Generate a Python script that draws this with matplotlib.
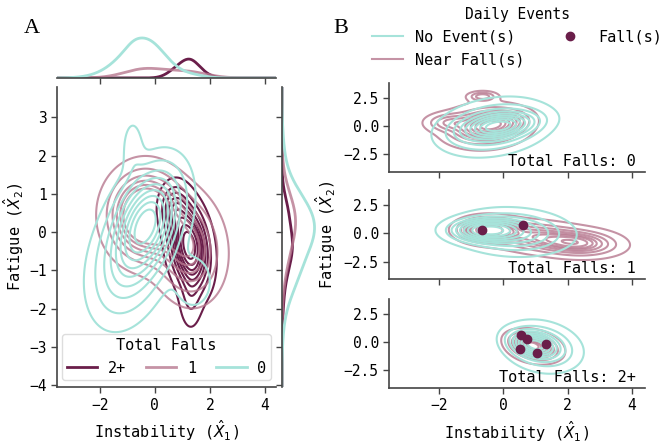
import matplotlib
matplotlib.use('Agg')
import matplotlib.pyplot as plt
import numpy as np
from matplotlib.lines import Line2D

plt.rcParams['font.family'] = ['DejaVu Sans Mono', 'DejaVu Sans']
plt.rcParams['mathtext.fontset'] = 'dejavusans'

# colours for 0 / 1 / 2+ falls (and no event / near fall / fall)
C_ZERO = '#a6e3da'
C_ONE = '#b7788f'
C_TWO = '#6a1e4a'

# density blobs: (weight, x centre, y centre, sd x, sd y, corr)
A_FALLS0 = [(0.64, -0.25, 0.30, 0.70, 0.78, 0.35),
            (0.315, -0.95, -0.80, 0.80, 0.90, 0.30),
            (0.015, -0.80, 2.20, 0.25, 0.50, 0.0),
            (0.03, 1.40, -1.30, 0.45, 0.45, 0.0)]
A_FALLS1 = [(0.62, -0.35, 0.45, 0.75, 0.65, 0.0),
            (0.38, 1.20, -0.40, 0.70, 0.75, -0.1)]
A_FALLS2 = [(0.82, 1.25, -0.35, 0.42, 0.65, -0.25),
            (0.12, 0.70, 0.65, 0.32, 0.38, 0.0),
            (0.06, 1.30, -1.75, 0.25, 0.50, 0.0)]
A_GROUP_WEIGHTS = [0.16, 0.21, 0.63]      # 2+, 1, 0
A_LABELS = ['2+', '1', '0']
A_NLEVELS = [9, 6, 9]

B_NOEVENT = [
    [(0.35, -0.10, 0.00, 0.65, 0.65, 0.35), (0.65, -0.30, -0.10, 0.85, 1.20, 0.25)],
    [(0.40, -0.55, 0.25, 0.60, 0.55, 0.00), (0.60, 0.30, 0.10, 0.90, 1.00, -0.10)],
    [(0.45, 0.95, -0.20, 0.40, 0.65, -0.30), (0.55, 1.20, -0.40, 0.60, 1.10, -0.20)],
]
B_NEARFALL = [
    [(0.40, -0.35, 0.10, 0.50, 0.60, 0.30), (0.49, -0.55, 0.00, 0.75, 1.05, 0.10),
     (0.08, -1.70, 0.30, 0.40, 0.45, 0.00), (0.03, -0.65, 2.60, 0.25, 0.25, 0.00)],
    [(0.35, -0.50, 0.30, 0.50, 0.60, 0.00), (0.35, 1.00, -0.30, 0.90, 0.80, -0.20),
     (0.30, 2.40, -0.90, 0.75, 0.70, -0.10)],
    [(0.55, 0.90, -0.30, 0.35, 0.55, -0.40), (0.45, 0.95, -0.40, 0.45, 0.75, -0.20)],
]
B_FALL_X = [[], [-0.65, 0.6], [0.55, 0.72, 0.52, 1.05, 1.32]]
B_FALL_Y = [[], [0.3, 0.75], [0.6, 0.3, -0.6, -1.0, -0.2]]
B_TITLES = ['Total Falls: 0', 'Total Falls: 1', 'Total Falls: 2+']

XLIM = (-3.55, 4.4)
YLIM = (-4.05, 3.8)

gx = np.linspace(XLIM[0], XLIM[1], 300)
gy = np.linspace(YLIM[0], YLIM[1], 300)
GX, GY = np.meshgrid(gx, gy)


def density2d(comps):
    z = np.zeros_like(GX)
    for w, mx, my, sx, sy, r in comps:
        u = (GX - mx) / sx
        v = (GY - my) / sy
        q = (u * u - 2 * r * u * v + v * v) / (1 - r * r)
        z += w * np.exp(-q / 2) / (2 * np.pi * sx * sy * np.sqrt(1 - r * r))
    return z


def marg(comps, t, axis):
    d = np.zeros_like(t)
    for w, mx, my, sx, sy, r in comps:
        m, s = (mx, sx) if axis == 0 else (my, sy)
        d += w * np.exp(-0.5 * ((t - m) / s) ** 2) / (s * np.sqrt(2 * np.pi))
    return d


def iso_levels(z, n):
    props = np.linspace(0.05, 1, 10)[:n]
    vals = np.sort(z.ravel())[::-1]
    cum = np.cumsum(vals) / vals.sum()
    idx = np.searchsorted(cum, 1 - props)
    lev = np.take(vals, idx, mode='clip')
    return np.unique(lev)


def style(ax):
    for s in ['top', 'right']:
        ax.spines[s].set_visible(False)
    for s in ['left', 'bottom']:
        ax.spines[s].set_color('#444444')
        ax.spines[s].set_linewidth(1.2)
    ax.tick_params(direction='out', length=4, width=1, color='#444444', labelsize=10.5)


fig = plt.figure(figsize=(6.62, 4.43), dpi=100)

# ---------------- panel A ----------------
axA = fig.add_axes([0.086, 0.126, 0.331, 0.678])
axT = fig.add_axes([0.086, 0.824, 0.331, 0.135], sharex=axA)
axR = fig.add_axes([0.426, 0.126, 0.066, 0.678], sharey=axA)

groups = [A_FALLS2, A_FALLS1, A_FALLS0]
cols = [C_TWO, C_ONE, C_ZERO]
alphas = [1.0, 0.8, 1.0]
for comps, c, a, n in zip(groups, cols, alphas, A_NLEVELS):
    z = density2d(comps)
    axA.contour(GX, GY, z, levels=iso_levels(z, n), colors=c, linewidths=1.5, alpha=a)

tx = np.linspace(XLIM[0], XLIM[1], 400)
ty = np.linspace(YLIM[0], YLIM[1], 400)
for comps, c, a, w in zip(groups, cols, alphas, A_GROUP_WEIGHTS):
    axT.plot(tx, w * marg(comps, tx, 0), color=c, lw=2, alpha=a)
    axR.plot(w * marg(comps, ty, 1), ty, color=c, lw=2, alpha=a)
axT.set_ylim(0, 0.46)
axR.set_xlim(0, 0.34)

axA.set_xlim(XLIM)
axA.set_ylim(YLIM)
axA.set_xticks([-2, 0, 2, 4])
axA.set_yticks([-4, -3, -2, -1, 0, 1, 2, 3])
style(axA)
axA.set_xlabel('Instability ($\\hat{X}_1$)', fontsize=11)
axA.set_ylabel('Fatigue ($\\hat{X}_2$)', fontsize=11, labelpad=2)

style(axT)
axT.spines['left'].set_visible(False)
axT.tick_params(axis='x', labelbottom=False)
axT.tick_params(axis='y', left=False, labelleft=False)
style(axR)
axR.spines['bottom'].set_visible(False)
axR.tick_params(axis='y', labelleft=False)
axR.tick_params(axis='x', bottom=False, labelbottom=False)

hA = [Line2D([], [], color=c, lw=2, alpha=a) for c, a in zip(cols, alphas)]
axA.legend(hA, A_LABELS, title='Total Falls', ncol=3, loc='lower center',
           fontsize=11, title_fontsize=11, handlelength=2.0, handletextpad=0.7,
           columnspacing=1.3, borderpad=0.3, borderaxespad=0.45,
           framealpha=1, edgecolor='#dddddd')

fig.text(0.048, 0.935, 'A', family='Liberation Serif', fontsize=16, ha='center', va='center')

# ---------------- panel B ----------------
b_bottoms = [0.612, 0.370, 0.124]
axesB = []
for i, bb in enumerate(b_bottoms):
    ax = fig.add_axes([0.588, bb, 0.386, 0.201], sharex=axesB[0] if axesB else None)
    axesB.append(ax)
    zn = density2d(B_NOEVENT[i])
    zf = density2d(B_NEARFALL[i])
    ax.contour(GX, GY, zf, levels=iso_levels(zf, 9), colors=C_ONE, linewidths=1.5, alpha=0.8)
    ax.contour(GX, GY, zn, levels=iso_levels(zn, 9), colors=C_ZERO, linewidths=1.5)
    ax.scatter(B_FALL_X[i], B_FALL_Y[i], s=36, color=C_TWO, zorder=5)
    ax.set_xlim(XLIM)
    ax.set_ylim(YLIM)
    ax.set_yticks([-2.5, 0, 2.5])
    ax.set_xticks([-2, 0, 2, 4])
    style(ax)
    ax.text(0.965, 0.03, B_TITLES[i], transform=ax.transAxes, ha='right', va='bottom', fontsize=11)
    if i < 2:
        ax.tick_params(axis='x', labelbottom=False)

axesB[1].set_ylabel('Fatigue ($\\hat{X}_2$)', fontsize=11)
axesB[2].set_xlabel('Instability ($\\hat{X}_1$)', fontsize=11)

hB = [Line2D([], [], color=C_ZERO, lw=1.5),
      Line2D([], [], color=C_ONE, lw=1.5, alpha=0.8),
      Line2D([], [], ls='', marker='o', color=C_TWO, markersize=6)]
axesB[0].legend(hB, ['No Event(s)', 'Near Fall(s)', 'Fall(s)'], title='Daily Events', ncol=2,
                loc='lower center', bbox_to_anchor=(0.5, 1.02), frameon=False,
                fontsize=11, title_fontsize=10.5, columnspacing=2.0)

fig.text(0.515, 0.935, 'B', family='Liberation Serif', fontsize=16, ha='center', va='center')

fig.savefig('out.png', dpi=100)
